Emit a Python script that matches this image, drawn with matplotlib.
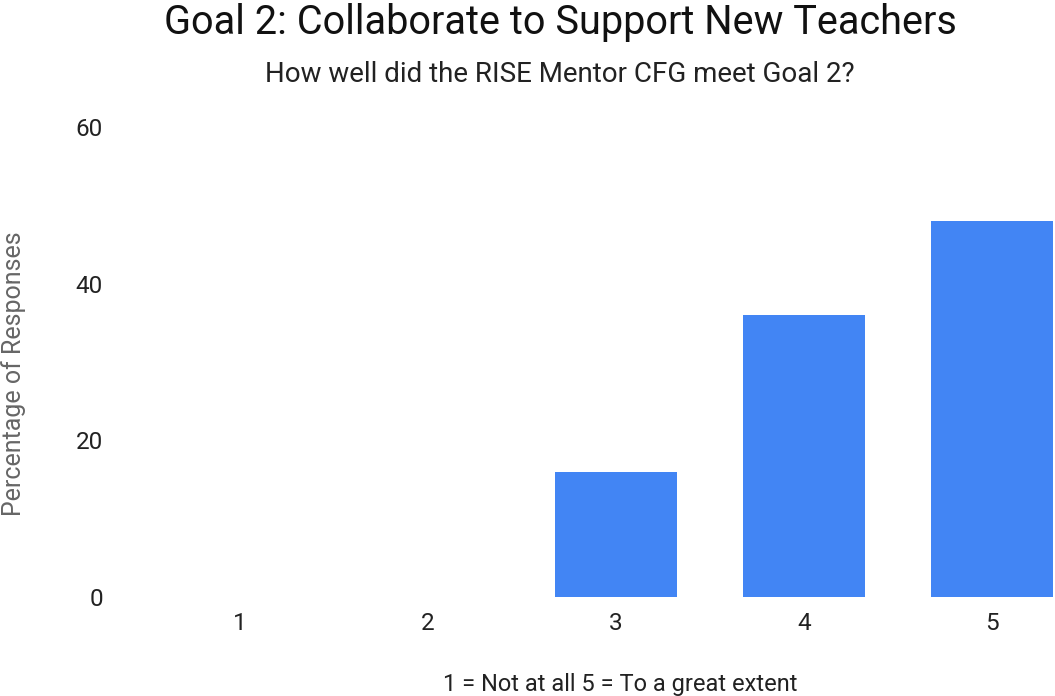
import matplotlib.pyplot as plt

plt.rcParams['font.family'] = ['Roboto', 'DejaVu Sans']

ratings = ['1', '2', '3', '4', '5']
percent = [0, 0, 16, 36, 48]
bar_color = '#4285f4'

W, H = 1055, 696
fig = plt.figure(figsize=(W / 100, H / 100), dpi=100)
# plot area runs past the right edge, as in the original
ax = fig.add_axes([146 / W, 1 - 597 / H, 940 / W, 470 / H])

ax.bar(ratings, percent, width=0.65, color=bar_color)
ax.set_xlim(-0.5, 4.5)
ax.set_ylim(0, 60)
ax.set_yticks([0, 20, 40, 60])

for s in ax.spines.values():
    s.set_visible(False)
ax.tick_params(axis='both', length=0, labelsize=17.5, labelcolor='#222222')
ax.tick_params(axis='y', pad=31)
ax.tick_params(axis='x', pad=11)

fig.text(14 / W, 1 - 374 / H, 'Percentage of Responses', rotation=90,
         ha='center', va='center', fontsize=18, color='#666666')
fig.text(620 / W, 1 - 684 / H, '1 = Not at all 5 = To a great extent',
         ha='center', va='center', fontsize=17, color='#222222')
fig.text(560 / W, 1 - 22 / H, 'Goal 2: Collaborate to Support New Teachers',
         ha='center', va='center', fontsize=28.5, color='#111111')
fig.text(560 / W, 1 - 75 / H, 'How well did the RISE Mentor CFG meet Goal 2?',
         ha='center', va='center', fontsize=20, color='#222222')

fig.savefig('out.png', dpi=100)
